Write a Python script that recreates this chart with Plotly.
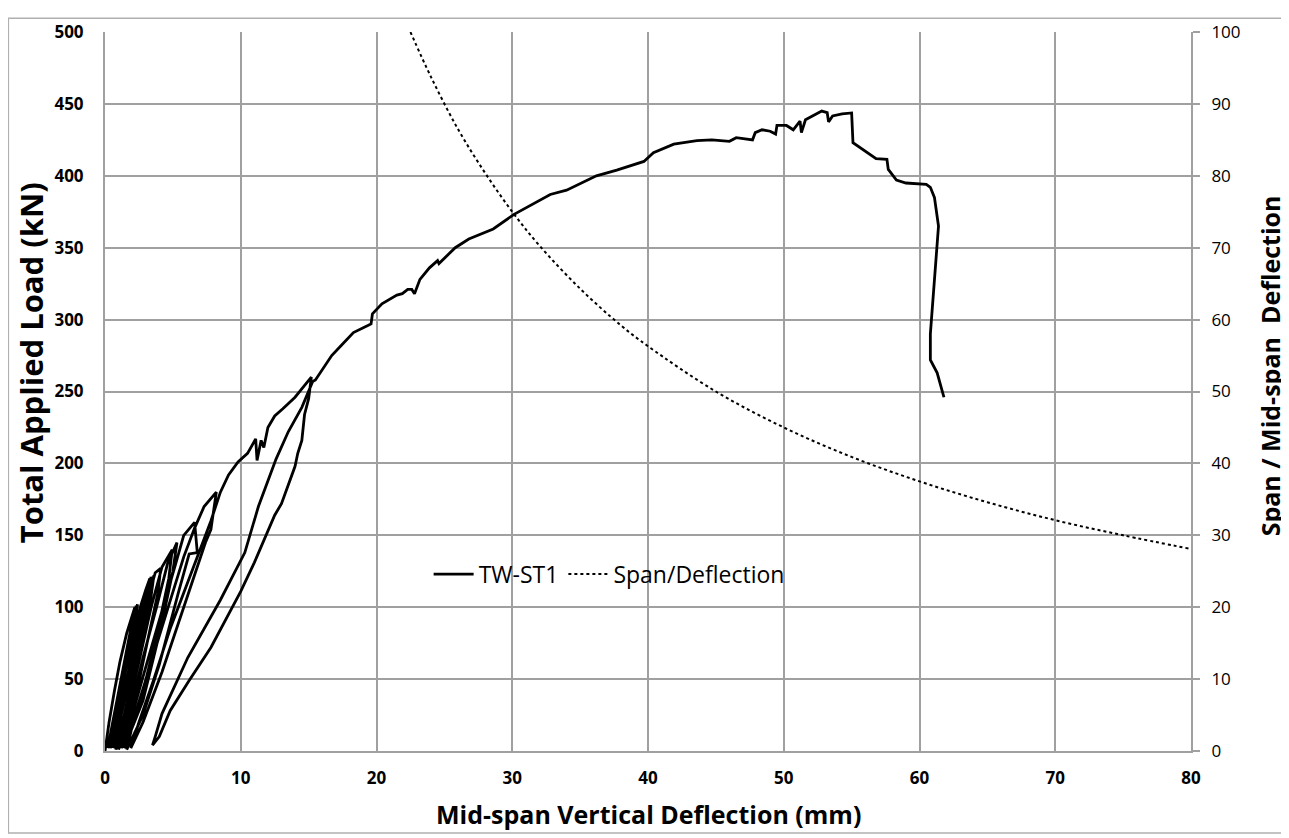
import plotly.graph_objects as go

# ---- data ----
load_x = [0, 0.3, 0.7, 1.1, 1.6, 2.0, 2.2, 1.9, 1.3, 0.7, 0.2,
          0.6, 1.1, 1.6, 2.0, 2.3, 2.1, 1.5, 0.9, 0.3,
          0.7, 1.2, 1.7, 2.1, 2.4, 2.2, 1.6, 1.0, 0.4,
          0.9, 1.5, 2.1, 2.6, 3.0, 3.3, 3.1, 2.4, 1.6, 0.6,
          1.1, 1.7, 2.4, 2.9, 3.4, 3.2, 2.6, 1.8, 0.7,
          1.2, 2.0, 2.8, 3.5, 3.3, 2.6, 1.7, 0.8,
          1.0, 1.8, 2.6, 3.2, 3.6, 3.4, 2.7, 1.9, 0.9,
          1.3, 2.2, 3.0, 3.7, 4.1, 3.9, 3.1, 2.1, 1.0,
          1.6, 2.5, 3.4, 4.2, 4.95, 4.7, 3.8, 2.5, 1.2,
          1.8, 2.8, 3.8, 4.6, 5.3, 5.0, 4.1, 2.8, 1.4,
          2.0, 3.2, 4.3, 5.2, 5.8, 6.6, 6.8, 6.2, 5.4, 4.0, 2.8, 1.6,
          2.2, 3.5, 4.8, 5.8, 6.6, 7.3, 8.2, 7.8, 7.4, 5.8, 4.2, 2.8, 1.9,
          2.5, 3.6, 4.8, 6.0, 7.0, 7.8, 8.5, 9.1, 9.8, 10.5, 11.1, 11.2, 11.5, 11.7, 12.0, 12.5, 13.1, 14.0, 14.6, 15.2,
          15.0, 14.7, 14.5, 14.2, 14.0, 13.0, 12.5, 11.0, 10.0, 7.8, 6.2, 4.8, 4.0, 3.5,
          3.7, 4.2, 6.1, 8.5, 10.3, 11.3, 12.6, 13.5, 14.5, 15.3,
          15.5, 16.5, 16.7, 17.4, 18.3, 19.4, 19.6, 19.7, 20.4, 21.5, 21.9, 22.3, 22.6, 22.8, 23.2, 23.9, 24.5, 24.6,
          25.8, 26.8, 28.6, 30.1, 32.8, 34.0, 36.2, 37.7, 39.7, 40.4, 41.9, 43.6, 44.7, 46.0, 46.5, 47.7, 47.9, 48.4,
          49.0, 49.4, 49.5, 50.2, 50.7, 51.2, 51.3, 51.6, 52.2, 52.8, 53.2, 53.3, 53.6, 54.3, 55.0, 55.1, 56.8, 57.6,
          57.7, 58.3, 59.0, 60.5, 60.8, 61.1, 61.4, 60.8, 60.8, 61.3, 61.8]
load_y = [0, 20, 42, 62, 82, 95, 100, 85, 55, 25, 2,
          22, 45, 68, 88, 101, 88, 58, 28, 2,
          22, 45, 70, 90, 102, 90, 60, 30, 2,
          25, 55, 80, 100, 112, 120, 100, 65, 30, 2,
          28, 55, 85, 105, 121, 105, 72, 35, 2,
          25, 60, 100, 121, 105, 70, 30, 1,
          22, 55, 88, 110, 122, 108, 75, 38, 2,
          20, 60, 100, 124, 127, 110, 75, 30, 1,
          25, 62, 100, 128, 140, 120, 80, 30, 2,
          25, 65, 100, 130, 145, 125, 85, 35, 2,
          25, 65, 100, 130, 150, 159, 138, 137, 110, 60, 25, 1,
          25, 65, 105, 135, 155, 170, 180, 154, 145, 100, 55, 20, 2,
          20, 50, 85, 115, 140, 160, 180, 192, 201, 207, 217, 202, 216, 211, 225, 233, 238, 246, 253, 260,
          245, 234, 216, 207, 198, 172, 164, 131, 111, 72, 49, 28, 10, 4,
          10, 26, 65, 105, 138, 170, 203, 222, 239, 257,
          258, 272, 275, 282, 291, 296, 297, 304, 311, 317, 318, 321, 321, 318, 328, 336, 341, 339,
          350, 356, 363, 373, 387, 390, 400, 404, 410, 416, 422, 424.5, 425, 424, 426.5, 425, 430, 432,
          431, 429, 435, 435, 432, 438, 430, 439, 442, 445, 444, 437.5, 441.6, 443, 443.7, 423, 412, 411.4,
          404.5, 397, 395, 394, 392, 385, 365, 290, 272, 263, 246]

span_x = [22.5, 24, 26, 28, 30, 32, 35, 38, 40, 45, 50, 55, 60, 65, 70, 75, 80]
span_y = [100, 93.8, 86.5, 80.4, 75, 70.3, 64.3, 59.2, 56.3, 50, 45, 40.9, 37.5, 34.6, 32.1, 30, 28.1]

x_ticks = [0, 10, 20, 30, 40, 50, 60, 70, 80]
y_ticks = [0, 50, 100, 150, 200, 250, 300, 350, 400, 450, 500]
y2_ticks = [0, 10, 20, 30, 40, 50, 60, 70, 80, 90, 100]

FONT = "Open Sans"
GRID = "#a0a0a0"

fig = go.Figure()
fig.add_trace(go.Scatter(x=load_x, y=load_y, mode="lines", name="TW-ST1",
                         line=dict(color="black", width=2.8)))
fig.add_trace(go.Scatter(x=span_x, y=span_y, mode="lines", name="Span/Deflection",
                         yaxis="y2", line=dict(color="black", width=2, dash="dot", shape="spline")))

# page body has an 8px margin, so the figure is shifted by 8px;
# plot area ends up at x 105..1183, y 23..751 on the page
fig.update_layout(
    width=1281, height=830,
    margin=dict(l=97, r=98, t=15, b=87),
    paper_bgcolor="white", plot_bgcolor="white",
    font=dict(family=FONT, color="black"),
    showlegend=True,
    legend=dict(orientation="h", x=0.298, y=0.246, xanchor="left", yanchor="middle",
                font=dict(size=23, family=FONT), bgcolor="rgba(0,0,0,0)", itemwidth=40),
    xaxis=dict(range=[0, 80], tickvals=x_ticks, showgrid=True, gridcolor=GRID, gridwidth=1.5,
               showline=True, linecolor=GRID, linewidth=2, zeroline=False, ticks="",
               ticklabelstandoff=11,
               tickfont=dict(size=17, family=FONT, weight="bold"), mirror=False),
    yaxis=dict(range=[0, 500], tickvals=y_ticks, showgrid=True, gridcolor=GRID, gridwidth=1.5,
               showline=True, linecolor=GRID, linewidth=2, zeroline=False, ticks="",
               ticklabelstandoff=16,
               tickfont=dict(size=17, family=FONT, weight="bold")),
    yaxis2=dict(range=[0, 100], tickvals=y2_ticks, overlaying="y", side="right", showgrid=False,
                showline=True, linecolor=GRID, linewidth=2, zeroline=False,
                ticks="outside", ticklen=7, tickcolor=GRID, tickwidth=1.5,
                ticklabelstandoff=8,
                tickfont=dict(size=17, family=FONT)),
)

fig.add_annotation(text="<b>Mid-span Vertical Deflection (mm)</b>", xref="paper", yref="paper",
                   x=0.5, y=-0.087, xanchor="center", yanchor="middle", showarrow=False,
                   font=dict(size=25, family=FONT))
fig.add_annotation(text="<b>Total Applied Load (kN)</b>", xref="paper", yref="paper",
                   x=-0.0686, y=0.54, xanchor="center", yanchor="middle", textangle=-90, showarrow=False,
                   font=dict(size=31, family=FONT))
fig.add_annotation(text="<b>Span / Mid-span  Deflection</b>", xref="paper", yref="paper",
                   x=1.0725, y=0.536, xanchor="center", yanchor="middle", textangle=-90, showarrow=False,
                   font=dict(size=25, family=FONT))

fig.add_shape(type="rect", xref="paper", yref="paper",
              x0=-0.0890, x1=1.0955, y0=-0.1140, y1=1.0190,
              line=dict(color="#b0b0b0", width=1.5), fillcolor="rgba(0,0,0,0)", layer="below")

fig.write_html("out.html")
